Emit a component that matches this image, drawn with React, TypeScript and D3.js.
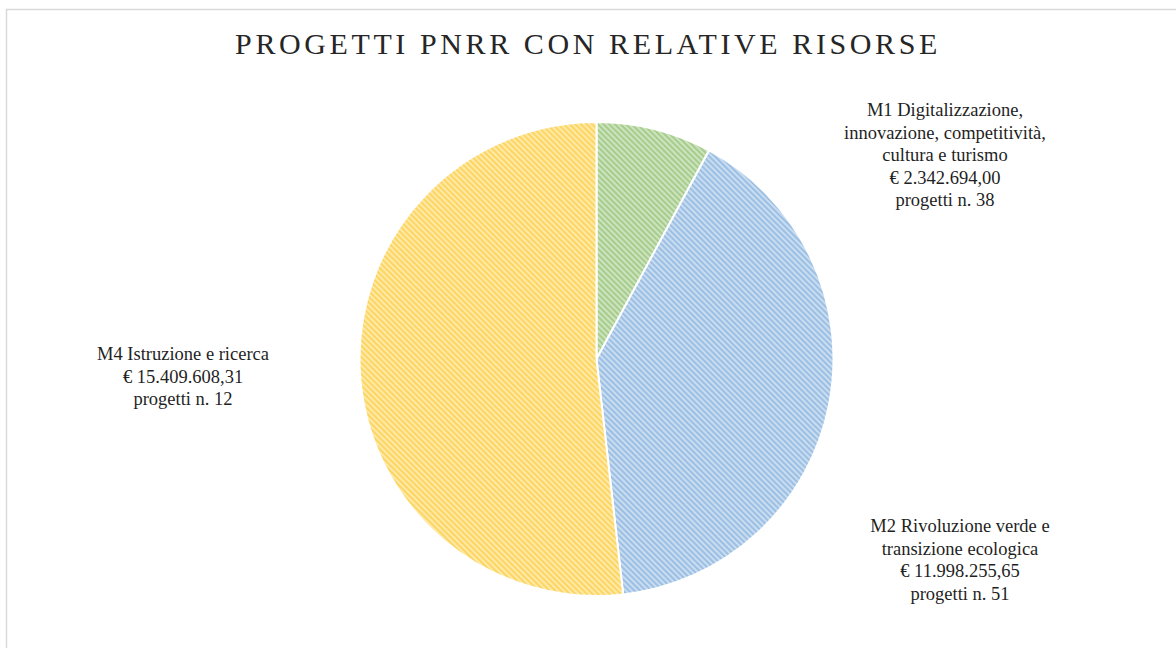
import React from "react";
import * as d3 from "d3";

const categories = ["M1", "M2", "M4"];
const values = [2342694.0, 11998255.65, 15409608.31];
const labelLines = [
  ["M1 Digitalizzazione,", "innovazione, competitività,", "cultura e turismo", "€ 2.342.694,00", "progetti n. 38"],
  ["M2 Rivoluzione verde e", "transizione ecologica", "€ 11.998.255,65", "progetti n. 51"],
  ["M4 Istruzione e ricerca", "€ 15.409.608,31", "progetti n. 12"],
];
const title = "PROGETTI PNRR CON RELATIVE RISORSE";

const fills = [
  { bg: "#cde3bf", fg: "#a6cd8c" },
  { bg: "#c9dcf0", fg: "#9cc0e4" },
  { bg: "#fee9a6", fg: "#fcd563" },
];
const labelPos = [
  { x: 945, y: 116 },
  { x: 960, y: 532 },
  { x: 183, y: 360 },
];

export default function App() {
  const W = 1176, H = 648;
  const cx = 596.5, cy = 359, r = 237;
  const pie = d3.pie<number>().sort(null).value((d) => d);
  const arcs = pie(values);
  const arc = d3.arc<d3.PieArcDatum<number>>().innerRadius(0).outerRadius(r);
  const font = "'Liberation Serif', 'DejaVu Serif', serif";
  return (
    <svg width={W} height={H} style={{ position: "absolute", left: 0, top: 0, background: "#fff" }}>
      <defs>
        {fills.map((f, i) => (
          <pattern key={i} id={`hatch${i}`} width={4} height={4} patternUnits="userSpaceOnUse" patternTransform="rotate(45)">
            <rect width={4} height={4} fill={f.bg} />
            <rect width={4} height={2} fill={f.fg} />
          </pattern>
        ))}
      </defs>
      <rect x={6.5} y={9.5} width={W + 10} height={H + 10} fill="#fff" stroke="#d9d9d9" strokeWidth={1.5} />
      <text x={588} y={54} textAnchor="middle" fontFamily={font} fontSize={30} fill="#262626" letterSpacing={3.6}>
        {title}
      </text>
      <g transform={`translate(${cx},${cy})`}>
        {arcs.map((a, i) => (
          <path key={categories[i]} d={arc(a) || ""} fill={`url(#hatch${i})`} stroke="#fff" strokeWidth={2} />
        ))}
      </g>
      {labelLines.map((lines, i) => (
        <text key={i} textAnchor="middle" fontFamily={font} fontSize={18.5} fill="#1f1f1f">
          {lines.map((l, j) => (
            <tspan key={j} x={labelPos[i].x} y={labelPos[i].y + j * 22.5}>
              {l}
            </tspan>
          ))}
        </text>
      ))}
    </svg>
  );
}
